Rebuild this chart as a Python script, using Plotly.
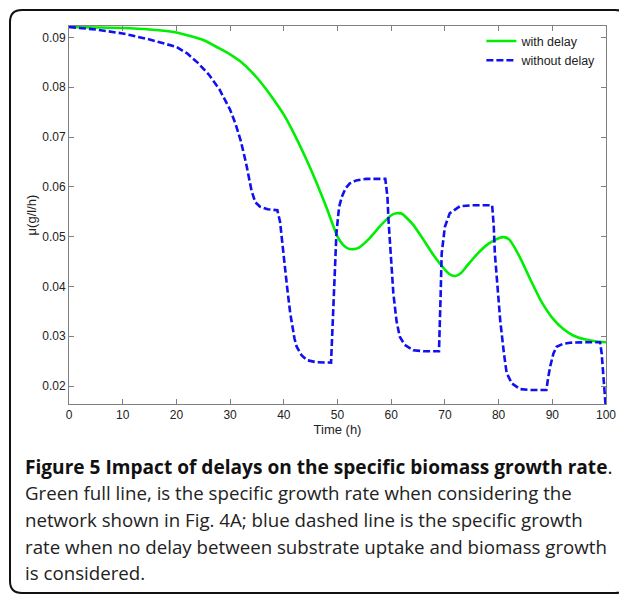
import plotly.graph_objects as go

# ---- data ----
t_with = [0, 5, 10, 15, 20, 25, 28, 30, 32, 34, 36, 38, 40, 42, 44, 46, 48, 50, 51, 52, 53, 54,
          56, 58, 60, 61, 62, 64, 66, 68, 70, 71, 72, 73, 74, 76, 78, 80, 81, 82, 84, 86, 88,
          90, 92, 94, 96, 98, 100]
mu_with = [0.0921, 0.0920, 0.0919, 0.0916, 0.0910, 0.0895, 0.0878, 0.0866, 0.0851, 0.0831,
           0.0806, 0.0777, 0.0745, 0.0705, 0.0660, 0.0611, 0.0557, 0.0500, 0.0484, 0.0476,
           0.0475, 0.0478, 0.0497, 0.0522, 0.0543, 0.0547, 0.0546, 0.0525, 0.0494, 0.0461,
           0.0434, 0.0424, 0.0421, 0.0427, 0.0440, 0.0465, 0.0485, 0.0497, 0.0499, 0.0494,
           0.0458, 0.0412, 0.0369, 0.0337, 0.0315, 0.0301, 0.0294, 0.0290, 0.0288]

t_without = [0, 5, 10, 15, 20, 22, 24, 26, 28, 30, 31, 32, 33, 34, 34.7, 35.6, 37, 38.8,
             39.3, 39.9, 40.6, 41.2, 42, 42.4, 43.3, 44.3, 46, 48.8, 49.1, 49.5, 49.8, 50.3,
             50.8, 51.5, 52.3, 53.5, 55.4, 58.9, 59.3, 59.5, 60, 60.4, 61, 61.6, 62.5, 64.1,
             66, 68.9, 69.2, 69.4, 70, 70.9, 72.8, 75, 78.8, 79.1, 79.3, 79.8, 80.3, 81, 81.5,
             82.5, 84, 86, 88.9, 89.2, 89.6, 90.2, 90.8, 92, 93.3, 96, 98.9, 99.2, 99.5, 100]
mu_without = [0.0921, 0.0916, 0.0908, 0.0896, 0.0881, 0.0868, 0.0849, 0.0826, 0.0796, 0.0755,
              0.0727, 0.0692, 0.0646, 0.0592, 0.0569, 0.0560, 0.0555, 0.0553, 0.0530,
              0.0466, 0.0400, 0.0346, 0.0295, 0.0279, 0.0262, 0.0252, 0.0248, 0.0247, 0.0332,
              0.0430, 0.0507, 0.0560, 0.0580, 0.0597, 0.0607, 0.0613, 0.0616, 0.0616, 0.0580,
              0.0533, 0.0450, 0.0386, 0.0330, 0.0299, 0.0283, 0.0272, 0.0270, 0.0270, 0.0380,
              0.0466, 0.0520, 0.0547, 0.0561, 0.0563, 0.0563, 0.0520, 0.0467, 0.0400, 0.0332,
              0.0265, 0.0226, 0.0205, 0.0194, 0.0192, 0.0192, 0.0215, 0.0239, 0.0265, 0.0279,
              0.0285, 0.0287, 0.0288, 0.0288, 0.0265, 0.0215, 0.0150]

x_ticks = [0, 10, 20, 30, 40, 50, 60, 70, 80, 90, 100]
y_ticks = [0.02, 0.03, 0.04, 0.05, 0.06, 0.07, 0.08, 0.09]
y_tick_labels = ["0.02", "0.03", "0.04", "0.05", "0.06", "0.07", "0.08", "0.09"]

caption_title = "Figure 5 Impact of delays on the specific biomass growth rate"
caption_lines = [
    "Green full line, is the specific growth rate when considering the",
    "network shown in Fig. 4A; blue dashed line is the specific growth",
    "rate when no delay between substrate uptake and biomass growth",
    "is considered.",
]

# ---- geometry (figure pixels; page adds an 8px body margin) ----
W, H = 619, 586
L, R, T, B = 61, 598, 18, 396


def px(x):
    return (x - L) / (R - L)


def py(y):
    return (B - y) / (B - T)


fig = go.Figure()
fig.add_trace(go.Scatter(x=t_with, y=mu_with, mode="lines", name="with delay",
                         line=dict(color="#00ee00", width=2.6, shape="spline", smoothing=0.5)))
fig.add_trace(go.Scatter(x=t_without, y=mu_without, mode="lines", name="without delay",
                         line=dict(color="#1010f0", width=2.6, dash="7px,3px")))

tick_font = dict(family="Liberation Sans", size=12, color="#222")
axis_common = dict(showline=True, linecolor="#808080", linewidth=1, mirror="ticks",
                   ticks="inside", ticklen=5, tickcolor="#808080", showgrid=False,
                   zeroline=False, tickfont=tick_font)

fig.update_xaxes(range=[0, 100], tickvals=x_ticks,
                 title=dict(text="Time (h)", standoff=0,
                            font=dict(family="Liberation Sans", size=13, color="#222")),
                 **axis_common)
fig.update_yaxes(range=[0.0164, 0.0923], tickvals=y_ticks, ticktext=y_tick_labels,
                 title=dict(text="μ(g/l/h)", standoff=2,
                            font=dict(family="Liberation Sans", size=13, color="#222")),
                 **axis_common)

cap_x = px(15)
annotations = [dict(xref="paper", yref="paper", x=cap_x, y=py(458.7), xanchor="left",
                    yanchor="middle", showarrow=False, align="left",
                    text="<b>" + caption_title + "</b>.",
                    font=dict(family="Open Sans", size=19.1, color="#111"))]
for i, line in enumerate(caption_lines):
    annotations.append(dict(xref="paper", yref="paper", x=cap_x, y=py(484.7 + 26.7 * i),
                            xanchor="left", yanchor="middle", showarrow=False, align="left",
                            text=line, font=dict(family="Open Sans", size=18.7, color="#222")))

# rounded outer frame
x0, x1, y0, y1, r = 2, 619, 2, 585, 12
path = (f"M {px(x0 + r)} {py(y0)} L {px(x1 - r)} {py(y0)} Q {px(x1)} {py(y0)} {px(x1)} {py(y0 + r)} "
        f"L {px(x1)} {py(y1 - r)} Q {px(x1)} {py(y1)} {px(x1 - r)} {py(y1)} "
        f"L {px(x0 + r)} {py(y1)} Q {px(x0)} {py(y1)} {px(x0)} {py(y1 - r)} "
        f"L {px(x0)} {py(y0 + r)} Q {px(x0)} {py(y0)} {px(x0 + r)} {py(y0)} Z")

fig.update_layout(
    width=W, height=H,
    margin=dict(l=L, r=W - R, t=T, b=H - B, pad=0),
    paper_bgcolor="white", plot_bgcolor="white",
    showlegend=True,
    legend=dict(x=px(593.4), y=py(18.3), xanchor="right", yanchor="top",
                bgcolor="rgba(0,0,0,0)", itemwidth=30, tracegroupgap=0,
                font=dict(family="Liberation Sans", size=12.5, color="#222")),
    annotations=annotations,
    shapes=[dict(type="path", xref="paper", yref="paper", path=path,
                 line=dict(color="#111", width=2), layer="below")],
)

fig.write_html("out.html")
